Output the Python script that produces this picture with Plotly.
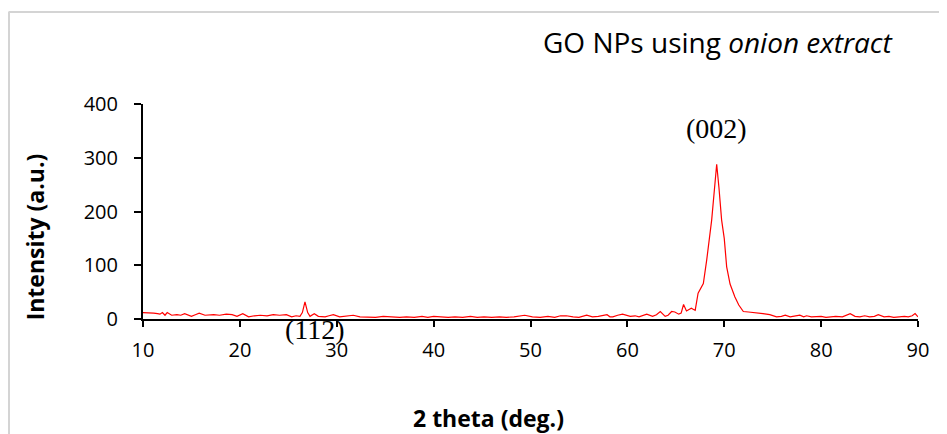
import plotly.graph_objects as go

two_theta = [10.0, 10.6, 11.1, 11.5, 11.75, 12.0, 12.27, 12.5, 12.96, 13.5, 13.9, 14.3, 14.7,
             15.0, 15.4, 15.8, 16.4, 16.9, 17.3, 17.9, 18.6, 19.2, 19.7, 20.3, 20.9, 21.5,
             22.1, 22.8, 23.45, 24.1, 24.8, 25.35, 25.8, 26.2, 26.45, 26.72, 27.0, 27.24,
             27.68, 28.1, 28.8, 29.2, 29.65, 30.3, 31.0, 31.7, 32.4, 33.1, 34.0, 34.8, 35.6,
             36.5, 37.2, 38.0, 38.8, 39.4, 40.0, 40.7, 41.5, 42.2, 43.0, 43.8, 44.5, 45.2,
             46.0, 46.8, 47.5, 48.3, 49.4, 50.2, 51.0, 51.8, 52.5, 53.1, 53.7, 54.4, 55.0,
             55.8, 56.4, 57.0, 57.9, 58.2, 58.5, 59.0, 59.5, 60.3, 60.8, 61.2, 61.6, 62.0,
             62.6, 63.0, 63.4, 63.9, 64.2, 64.57, 64.9, 65.3, 65.55, 65.8, 66.1, 66.3, 66.6,
             67.0, 67.3, 67.84, 68.19, 68.7, 69.0, 69.22, 69.45, 69.73, 70.0, 70.25, 70.6,
             71.1, 71.5, 71.97, 72.5, 72.97, 73.5, 74.0, 74.7, 75.4, 75.9, 76.3, 76.8, 77.3,
             77.8, 78.2, 78.5, 79.0, 79.5, 80.0, 80.5, 81.0, 81.5, 82.2, 83.0, 83.5, 84.0,
             84.5, 85.0, 85.5, 85.9, 86.5, 87.0, 87.5, 88.0, 88.6, 89.0, 89.4, 89.7, 90.0]
intensity = [12, 12, 11, 10, 9, 12, 7, 12, 7, 8, 7, 10, 7,
             5, 8, 11, 7, 8, 8, 7, 9, 8, 5, 10, 4, 6,
             7, 6, 8, 7, 8, 4, 6, 5, 12, 32, 12, 5,
             10, 5, 4, 6, 8, 4, 5, 7, 4, 4, 3, 5, 4,
             3, 4, 3, 5, 3, 5, 4, 3, 4, 3, 5, 3, 4,
             3, 4, 3, 4, 7, 4, 3, 5, 3, 6, 6, 4, 3,
             7, 4, 5, 8, 4, 4, 7, 9, 5, 6, 4, 6, 9,
             5, 8, 14, 5, 7, 14, 13, 9, 11, 27, 15, 17, 20,
             16, 48, 66, 110, 184, 250, 288, 245, 184, 150, 97, 65,
             41, 26, 14, 13, 12, 12, 10, 8, 4, 5, 7, 4, 5,
             7, 4, 6, 4, 4, 5, 3, 4, 5, 4, 10, 5, 4,
             6, 4, 5, 8, 4, 5, 3, 4, 5, 4, 6, 10, 4]

x_ticks = [10, 20, 30, 40, 50, 60, 70, 80, 90]
y_ticks = [0, 100, 200, 300, 400]

peak_labels = ["(002)", "(112)"]
peak_x = [69.2, 27.75]
peak_y = [355, -20]

Y_MAX = 400

fig = go.Figure()
fig.add_trace(go.Scatter(x=two_theta, y=intensity, mode="lines",
                         line=dict(color="#FF0000", width=1.2), showlegend=False))

FAM = "Open Sans, Noto Sans, sans-serif"
axis_font = dict(family=FAM, size=20, color="#000000")

# page body has an 8px margin; figure sized so the plot area lands where the reference has it
fig.update_layout(
    width=939, height=426,
    margin=dict(l=135, r=29, t=96, b=115),
    paper_bgcolor="white", plot_bgcolor="white",
    xaxis=dict(range=[10, 90], tickvals=x_ticks, showgrid=False, zeroline=False,
               showline=True, linecolor="#000000", linewidth=2,
               ticks="outside", ticklen=6, tickwidth=2, tickcolor="#000000",
               tickfont=axis_font, ticklabelstandoff=6),
    yaxis=dict(range=[0, Y_MAX], tickvals=y_ticks, showgrid=False, zeroline=False,
               showline=True, linecolor="#000000", linewidth=2,
               ticks="outside", ticklen=7, tickwidth=2, tickcolor="#000000",
               tickfont=axis_font, ticklabelstandoff=12),
)

for lbl, px, py in zip(peak_labels, peak_x, peak_y):
    fig.add_annotation(x=px, y=py / Y_MAX, xref="x", yref="paper", text=lbl, showarrow=False,
                       xanchor="center", yanchor="middle",
                       font=dict(family="Liberation Serif, Times New Roman, serif",
                                 size=28, color="#000000"))

fig.add_annotation(x=0.743, y=1.288, xref="paper", yref="paper",
                   text="GO NPs using <i>onion extract</i>", showarrow=False,
                   xanchor="center", yanchor="middle",
                   font=dict(family=FAM, size=28, color="#000000"))
fig.add_annotation(x=0.446, y=-0.46, xref="paper", yref="paper",
                   text="<b>2 theta (deg.)</b>", showarrow=False,
                   xanchor="center", yanchor="middle",
                   font=dict(family=FAM, size=23, color="#000000"))
fig.add_annotation(x=-0.139, y=0.381, xref="paper", yref="paper",
                   text="<b>Intensity (a.u.)</b>", showarrow=False, textangle=-90,
                   xanchor="center", yanchor="middle",
                   font=dict(family=FAM, size=23, color="#000000"))

# light frame of the original figure box
fig.add_shape(type="line", xref="paper", yref="paper", x0=-0.1729, x1=1.05, y0=1.428, y1=1.428,
              line=dict(color="#d4d4d4", width=2))
fig.add_shape(type="line", xref="paper", yref="paper", x0=-0.1729, x1=-0.1729, y0=1.43, y1=-0.55,
              line=dict(color="#d4d4d4", width=2))

fig.write_html("out.html")
